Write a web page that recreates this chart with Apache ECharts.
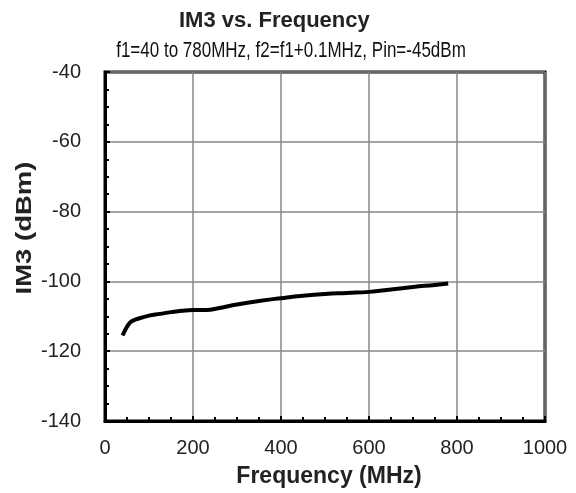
<!DOCTYPE html>
<html><head><meta charset="utf-8">
<script src="https://cdn.jsdelivr.net/npm/echarts@6/dist/echarts.min.js"></script>
<style>html,body{margin:0;padding:0;background:#fff}#c{width:576px;height:493px}</style>
</head><body><div id="c"></div>
<script>
const freqMHz = [40, 45, 50, 55, 60, 70, 80, 100, 125, 150, 175, 200, 230, 260, 300, 350, 400, 450, 500, 550, 600, 650, 700, 750, 780];
const im3dBm  = [-115.5, -114.2, -113.0, -112.1, -111.5, -110.9, -110.5, -109.8, -109.3, -108.8, -108.4, -108.2, -108.2, -107.6, -106.6, -105.6, -104.8, -104.1, -103.6, -103.3, -103.0, -102.3, -101.6, -101.0, -100.6];
const titleText = 'IM3 vs. Frequency';
const subtitleText = 'f1=40 to 780MHz, f2=f1+0.1MHz, Pin=-45dBm';
const xName = 'Frequency (MHz)';
const yName = 'IM3 (dBm)';

const chart = echarts.init(document.getElementById('c'), null, {renderer: 'canvas'});
const font = 'Liberation Sans, Arial, sans-serif';
chart.setOption({
  animation: false,
  backgroundColor: '#fff',
  title: [
    {text: titleText, left: 174, top: 5, textStyle: {fontFamily: font, fontWeight: 'bold', fontSize: 22, color: '#222'}}
  ],
  graphic: [
    {type: 'text', x: 291, y: 51, scaleY: 1.25,
     style: {text: subtitleText, font: 'normal 17px ' + font, fill: '#111', align: 'center', verticalAlign: 'middle'}},
    {type: 'text', x: 25, y: 228, rotation: Math.PI / 2, scaleX: 1.25,
     style: {text: yName, font: 'bold 22px ' + font, fill: '#222', align: 'center', verticalAlign: 'middle'}}
  ],
  grid: {left: 105, right: 31, top: 72, bottom: 70, show: true, borderColor: '#000', borderWidth: 3, backgroundColor: '#fff'},
  xAxis: {
    type: 'value', min: 0, max: 1000, interval: 200,
    name: xName, nameLocation: 'middle', nameGap: 44,
    nameTextStyle: {fontFamily: font, fontWeight: 'bold', fontSize: 23, color: '#222', padding: [0, 0, 0, 8]},
    axisLine: {lineStyle: {color: '#000', width: 3}},
    axisTick: {inside: true, length: 5, lineStyle: {color: '#000', width: 2}},
    minorTick: {show: true, splitNumber: 4, length: 4, lineStyle: {color: '#000', width: 2}},
    axisLabel: {fontFamily: font, fontSize: 20, color: '#222', margin: 17, formatter: v => String(v)},
    splitLine: {show: true, lineStyle: {color: '#888', width: 1.5}}
  },
  yAxis: {
    type: 'value', min: -140, max: -40, interval: 20,
    axisLine: {lineStyle: {color: '#000', width: 3}},
    axisTick: {inside: true, length: 5, lineStyle: {color: '#000', width: 2}},
    minorTick: {show: true, splitNumber: 4, length: 4, lineStyle: {color: '#000', width: 2}},
    axisLabel: {fontFamily: font, fontSize: 20, color: '#222', margin: 24, formatter: v => String(v)},
    splitLine: {show: true, lineStyle: {color: '#888', width: 1.5}}
  },
  series: [{
    type: 'line', smooth: true, showSymbol: false,
    data: freqMHz.map((f, i) => [f, im3dBm[i]]),
    lineStyle: {color: '#000', width: 4}
  }]
});
</script></body></html>
